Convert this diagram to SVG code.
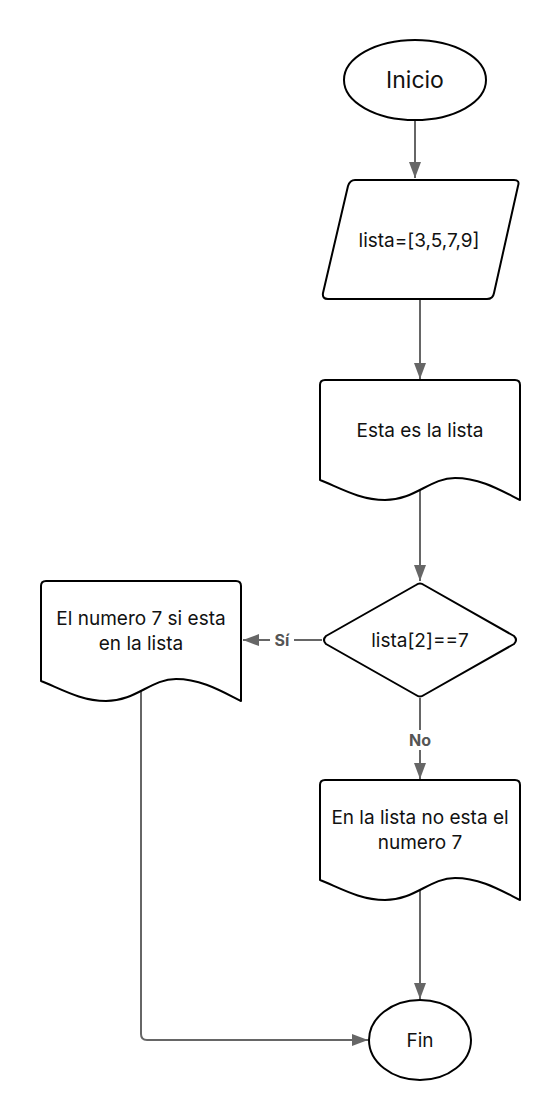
<svg xmlns="http://www.w3.org/2000/svg" width="560" height="1120" viewBox="0 0 560 1120">
<defs>
<style>
.shape{fill:#fff;stroke:#000;stroke-width:2;stroke-linejoin:round}
.t{font-family:Inter,"Liberation Sans",sans-serif;font-size:19px;fill:#111;text-anchor:middle;dominant-baseline:central}
.conn{fill:none;stroke:#666;stroke-width:2}
.lbl{font-family:Inter,"Liberation Sans",sans-serif;font-size:16px;font-weight:bold;fill:#555;text-anchor:middle;dominant-baseline:central}
</style>
<marker id="arr" markerUnits="userSpaceOnUse" markerWidth="17" markerHeight="12" refX="16" refY="6" orient="auto">
<path d="M0,0 L16,6 L0,12 Z" fill="#666"/>
</marker>
<path id="doc" d="M5,0 H195 Q200,0 200,5 V120 C180,110 160,98 135,98 C110,98 95,120 65,120 C40,120 20,108 0,100 V5 Q0,0 5,0 Z"/>
</defs>
<rect width="560" height="1120" fill="#fff"/>
<g id="connectors">
<path class="conn" d="M415,120 V178" marker-end="url(#arr)"/>
<path class="conn" d="M420,299 V379" marker-end="url(#arr)"/>
<path class="conn" d="M420,489 V581" marker-end="url(#arr)"/>
<path class="conn" d="M322,640 H243" marker-end="url(#arr)"/>
<path class="conn" d="M420,698 V779" marker-end="url(#arr)"/>
<path class="conn" d="M420,889 V999" marker-end="url(#arr)"/>
<path class="conn" d="M141,690 V1034 Q141,1040 147,1040 H368" marker-end="url(#arr)"/>
<rect x="270" y="630" width="24" height="20" fill="#fff"/>
<text class="lbl" x="282" y="640">Sí</text>
<rect x="405" y="730" width="30" height="20" fill="#fff"/>
<text class="lbl" x="420" y="740">No</text>
</g>
<g id="inicio">
<ellipse class="shape" cx="415" cy="80" rx="71" ry="40"/>
<text class="t" x="415" y="80" style="font-size:23px">Inicio</text>
</g>
<g id="lista">
<path class="shape" d="M355,180 H514 Q520,180 518,186 L494,293 Q493,299 487,299 H328 Q322,299 323,293 L348,186 Q350,180 355,180 Z"/>
<text class="t" x="419" y="240">lista=[3,5,7,9]</text>
</g>
<g id="esta">
<use href="#doc" class="shape" x="320" y="380"/>
<text class="t" x="420" y="430">Esta es la lista</text>
</g>
<g id="decision">
<path class="shape" d="M416,585 Q420,582 424,585 L514,636 Q518,640 514,644 L424,695 Q420,698 416,695 L326,644 Q322,640 326,636 Z"/>
<text class="t" x="420" y="640">lista[2]==7</text>
</g>
<g id="si">
<use href="#doc" class="shape" x="41" y="581"/>
<text class="t" x="141" y="618">El numero 7 si esta</text>
<text class="t" x="141" y="643">en la lista</text>
</g>
<g id="no">
<use href="#doc" class="shape" x="320" y="780"/>
<text class="t" x="420" y="817">En la lista no esta el</text>
<text class="t" x="420" y="842">numero 7</text>
</g>
<g id="fin">
<ellipse class="shape" cx="420" cy="1040" rx="51" ry="40"/>
<text class="t" x="420" y="1040">Fin</text>
</g>
</svg>
